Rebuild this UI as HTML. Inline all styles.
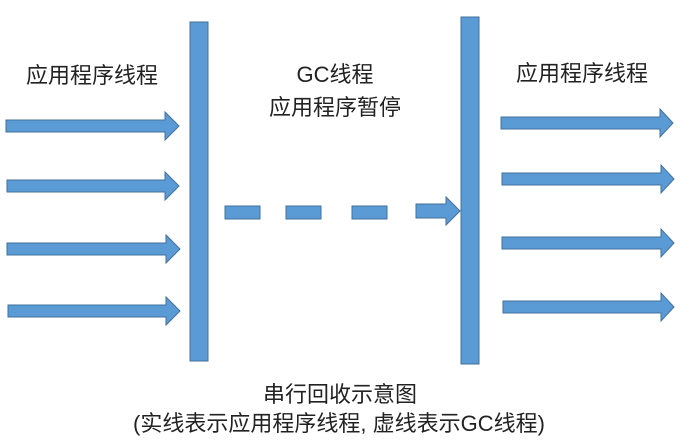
<!DOCTYPE html>
<html><head><meta charset="utf-8"><style>
html,body{margin:0;padding:0;background:#fff;}
svg{display:block;}
text{font-family:"Liberation Sans","Noto Sans CJK SC",sans-serif;font-size:22px;fill:#222;}
</style></head><body>
<svg width="697" height="447" viewBox="0 0 697 447" xmlns="http://www.w3.org/2000/svg">
<g fill="#5b9bd5" stroke="#41719c" stroke-width="1">
<rect x="190" y="22" width="18" height="339"/>
<rect x="461" y="17" width="18" height="347"/>
<path d="M6,120 H165 V112 L179,126 L165,140 V132 H6 Z"/>
<path d="M7,180 H165 V172 L179,186 L165,200 V192 H7 Z"/>
<path d="M7,243 H166 V235 L180,249 L166,263 V255 H7 Z"/>
<path d="M8,305 H166 V297 L180,311 L166,325 V317 H8 Z"/>
<path d="M501,117 H660 V109 L673,123 L660,137 V129 H501 Z"/>
<path d="M502,173 H661 V165 L674,179 L661,193 V185 H502 Z"/>
<path d="M502,237 H661 V229 L674,243 L661,257 V249 H502 Z"/>
<path d="M503,301 H661 V293 L674,307 L661,321 V313 H503 Z"/>
<rect x="225" y="206" width="35" height="13"/>
<rect x="286" y="206" width="35" height="13"/>
<rect x="352" y="206" width="35" height="13"/>
<path d="M416,204 H446 V197 L460,211 L446,225 V218 H416 Z"/>
</g>
<text x="26" y="83">应用程序线程</text>
<text x="335" y="82" text-anchor="middle">GC线程</text>
<text x="335" y="115" text-anchor="middle">应用程序暂停</text>
<text x="516" y="81">应用程序线程</text>
<text x="340" y="402" text-anchor="middle">串行回收示意图</text>
<text x="339" y="431" text-anchor="middle" textLength="412">(实线表示应用程序线程, 虚线表示GC线程)</text>
</svg>
</body></html>
